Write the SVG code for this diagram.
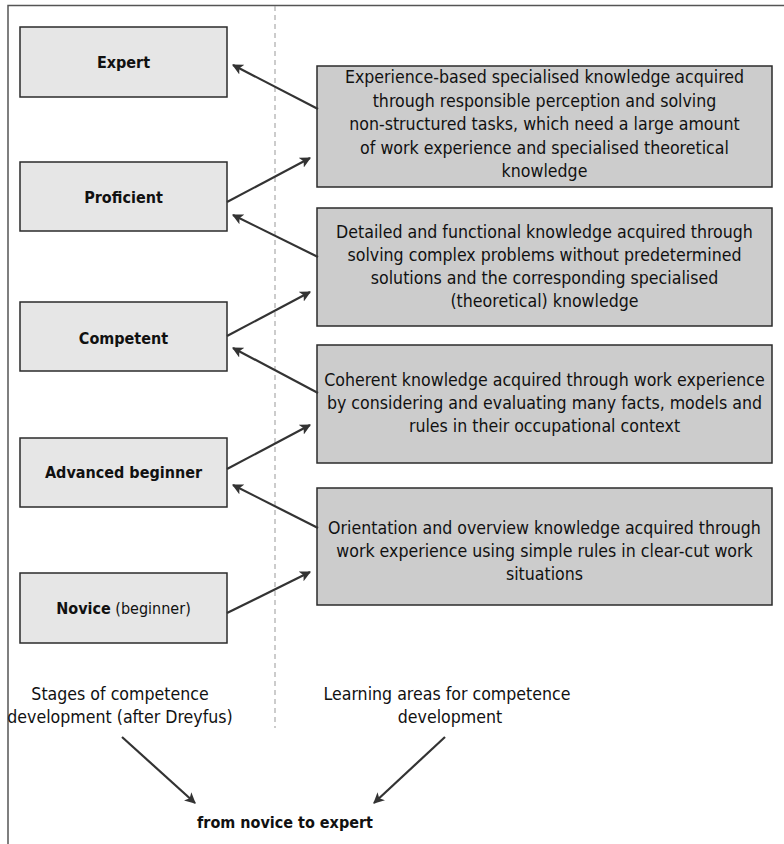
<svg xmlns="http://www.w3.org/2000/svg" width="784" height="844" viewBox="0 0 784 844">
<defs>
<style>
.stage{fill:#e6e6e6;stroke:#2b2b2b;stroke-width:1.5}
.area{fill:#cccccc;stroke:#2b2b2b;stroke-width:1.5}
text{font-family:"DejaVu Sans Condensed","DejaVu Sans",sans-serif;font-stretch:condensed;fill:#111;text-anchor:middle}
.lbl{font-size:16px;font-weight:bold}
.txt{font-size:17.6px}
.conn{stroke:#333;stroke-width:2.2;fill:none;marker-end:url(#ah)}
</style>
<marker id="ah" viewBox="0 0 10 10" refX="9" refY="5" markerWidth="11" markerHeight="11" markerUnits="userSpaceOnUse" orient="auto">
<path d="M0,0 L10,5 L0,10 L2.5,5 z" fill="#333"/>
</marker>
</defs>
<rect width="784" height="844" fill="#fff"/>
<path d="M8,844 V5.5 H790" fill="none" stroke="#555" stroke-width="1.5"/>
<line x1="275" y1="6" x2="275" y2="728" stroke="#999" stroke-width="1" stroke-dasharray="5,4"/>

<g id="expert"><rect class="stage" x="20" y="27" width="207" height="70"/><text class="lbl" x="123.5" y="68">Expert</text></g>
<g id="proficient"><rect class="stage" x="20" y="162" width="207" height="69"/><text class="lbl" x="123.5" y="203">Proficient</text></g>
<g id="competent"><rect class="stage" x="20" y="302" width="207" height="69"/><text class="lbl" x="123.5" y="344">Competent</text></g>
<g id="advanced"><rect class="stage" x="20" y="438" width="207" height="69"/><text class="lbl" x="123.5" y="478">Advanced beginner</text></g>
<g id="novice"><rect class="stage" x="20" y="573" width="207" height="70"/><text class="lbl" x="123.5" y="614">Novice<tspan font-weight="normal"> (beginner)</tspan></text></g>

<g id="area1"><rect class="area" x="317" y="66" width="455" height="121"/>
<text class="txt" x="544.5"><tspan x="544.5" y="83">Experience-based specialised knowledge acquired</tspan><tspan x="544.5" y="106.5">through responsible perception and solving</tspan><tspan x="544.5" y="130">non-structured tasks, which need a large amount</tspan><tspan x="544.5" y="153.5">of work experience and specialised theoretical</tspan><tspan x="544.5" y="177">knowledge</tspan></text></g>
<g id="area2"><rect class="area" x="317" y="208" width="455" height="118"/>
<text class="txt" x="544.5"><tspan x="544.5" y="238">Detailed and functional knowledge acquired through</tspan><tspan x="544.5" y="261">solving complex problems without predetermined</tspan><tspan x="544.5" y="284">solutions and the corresponding specialised</tspan><tspan x="544.5" y="307">(theoretical) knowledge</tspan></text></g>
<g id="area3"><rect class="area" x="317" y="345" width="455" height="118"/>
<text class="txt" x="544.5"><tspan x="544.5" y="386">Coherent knowledge acquired through work experience</tspan><tspan x="544.5" y="409">by considering and evaluating many facts, models and</tspan><tspan x="544.5" y="432">rules in their occupational context</tspan></text></g>
<g id="area4"><rect class="area" x="317" y="488" width="455" height="117"/>
<text class="txt" x="544.5"><tspan x="544.5" y="534">Orientation and overview knowledge acquired through</tspan><tspan x="544.5" y="557">work experience using simple rules in clear-cut work</tspan><tspan x="544.5" y="580">situations</tspan></text></g>

<g id="caption-left"><text class="txt"><tspan x="120" y="700">Stages of competence</tspan><tspan x="120" y="723">development (after Dreyfus)</tspan></text></g>
<g id="caption-right"><text class="txt"><tspan x="447" y="700">Learning areas for competence</tspan><tspan x="450" y="723">development</tspan></text></g>
<g id="goal"><text class="lbl" x="285" y="828">from novice to expert</text></g>

<g id="connectors">
<line class="conn" x1="318" y1="109" x2="233" y2="65"/>
<line class="conn" x1="227" y1="202" x2="310" y2="158"/>
<line class="conn" x1="318" y1="257" x2="233" y2="215"/>
<line class="conn" x1="227" y1="336" x2="310" y2="292"/>
<line class="conn" x1="318" y1="393" x2="233" y2="348"/>
<line class="conn" x1="227" y1="469" x2="310" y2="425"/>
<line class="conn" x1="318" y1="528" x2="233" y2="485"/>
<line class="conn" x1="227" y1="613" x2="310" y2="572"/>
<line class="conn" x1="122" y1="737" x2="195" y2="803"/>
<line class="conn" x1="445" y1="737" x2="374" y2="803"/>
</g>
</svg>
